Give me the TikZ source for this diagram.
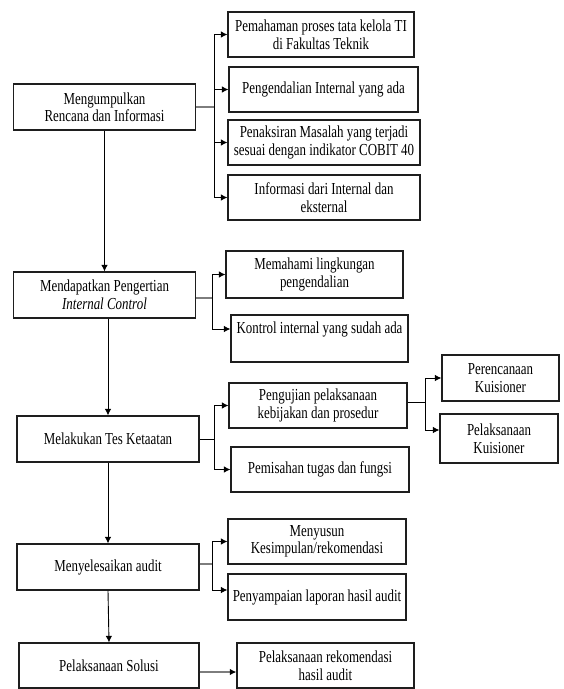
\documentclass[tikz,border=0pt]{standalone}
\usepackage{fontspec}
\setmainfont{Liberation Serif}[FakeStretch=0.77]
\usetikzlibrary{arrows.meta}
\definecolor{aud@line}{RGB}{30,30,30}
\definecolor{aud@stem}{RGB}{125,125,125}

\begin{document}
\begin{tikzpicture}[x=1pt,y=-1pt,
  box/.style={rectangle,draw=aud@line,fill=white,line width=1.2pt,align=center,
    minimum width=178pt,minimum height=45pt,inner sep=2pt,
    font=\fontsize{16.8}{17.5}\selectfont},
  main/.style={box,minimum width=182pt,minimum height=46pt},
  arr/.style={-{Latex[length=6.5pt,width=6.5pt]},black,line width=0.9pt},
  stem/.style={aud@stem,line width=2pt},
  stemarr/.style={stem,-{Latex[length=6.5pt,width=6.5pt,color=black]}}
]
\useasboundingbox (0,0) rectangle (563,689);

% main steps
\node[main] (col) at (104.5,107) {Mengumpulkan\\Rencana dan Informasi};
\node[main] (und) at (104.5,295) {Mendapatkan Pengertian\\\textit{Internal Control}};
\node[main] (tes) at (108,439) {Melakukan Tes Ketaatan};
\node[main] (sel) at (108,567) {Menyelesaikan audit};
\node[main,minimum width=180pt,minimum height=45pt] (sol) at (109,665.5) {Pelaksanaan Solusi};

% details
\node[box,minimum width=186pt] (pem) at (321,34.5) {Pemahaman proses tata kelola TI\\di Fakultas Teknik};
\node[box,minimum width=189pt] (pen) at (323.5,89.5) {Pengendalian Internal yang ada};
\node[box,minimum width=192pt] (tak) at (324,142.5) {Penaksiran Masalah yang terjadi\\sesuai dengan indikator COBIT 40};
\node[box,minimum width=192pt] (inf) at (324,197.5) {Informasi dari Internal dan\\eksternal};
\node[box,minimum width=177pt,minimum height=47pt] (mem) at (314.5,274.5) {Memahami lingkungan\\pengendalian};
\node[box,minimum width=177pt,minimum height=47pt] (kon) at (319.5,338.5) {Kontrol internal yang sudah ada\\[4pt]};
\node[box] (uji) at (318,405.5) {Pengujian pelaksanaan\\kebijakan dan prosedur};
\node[box] (pis) at (320,469.5) {Pemisahan tugas dan fungsi};
\node[box,minimum width=117pt,minimum height=46pt] (ren) at (500.5,378) {Perencanaan\\Kuisioner};
\node[box,minimum width=118pt,minimum height=49pt] (lak) at (499,438.5) {Pelaksanaan\\Kuisioner};
\node[box] (kes) at (317,541.5) {Menyusun\\Kesimpulan/rekomendasi};
\node[box,minimum height=46pt] (lap) at (317,597) {Penyampaian laporan hasil audit};
\node[box,minimum width=177pt] (rek) at (325.5,665.5) {Pelaksanaan rekomendasi\\hasil audit};

\coordinate (colb) at (214,107);
\coordinate (undb) at (212,298);
\coordinate (tesb) at (214,439);
\coordinate (ujib) at (425,402);
\coordinate (selb) at (212,564);

\draw[arr] (col.south) -- (und.north);
\draw[arr] (tes.north |- und.south) -- (tes.north);
\draw[arr] (tes.south) -- (sel.north);
\draw[arr] (sel.south) -- (sol.north);

\draw[stem] (col.east |- colb) -- (colb);
\draw[arr] (colb) |- (pem.west);
\draw[arr] (colb) |- (pen.west);
\draw[arr] (colb) |- (tak.west);
\draw[arr] (colb) |- (inf.west);

\draw[stem] (und.east |- undb) -- (undb);
\draw[arr] (undb) |- (mem.west);
\draw[arr] (undb) |- ([yshift=9.5pt]kon.west);

\draw[line width=0.9pt] (tes.east) -- (tesb);
\draw[arr] (tesb) |- (uji.west);
\draw[arr] (tesb) |- (pis.west);

\draw[line width=0.9pt] (uji.east |- ujib) -- (ujib);
\draw[arr] (ujib) |- (ren.west);
\draw[arr] (ujib) |- ([yshift=8.5pt]lak.west);

\draw[stem,line width=1.5pt] (sel.east |- selb) -- (selb);
\draw[arr] (selb) |- (kes.west);
\draw[arr] (selb) |- ([yshift=7pt]lap.west);

\draw[stemarr] ([yshift=-6.5pt]sol.east) -- ([yshift=-6.5pt]rek.west);
\end{tikzpicture}
\end{document}
